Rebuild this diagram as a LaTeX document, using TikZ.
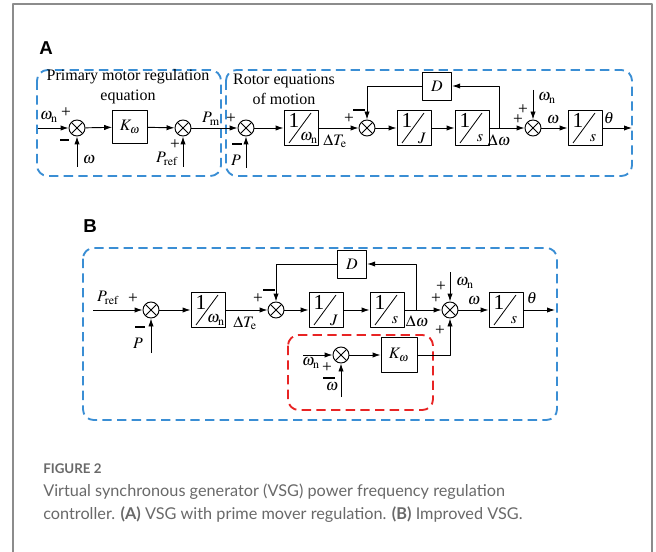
\documentclass[tikz,border=0pt]{standalone}
\usepackage{mathptmx}
\usepackage{fontspec}
\setmainfont{Liberation Serif}
\newfontfamily\capfont{Lato}
\newfontfamily\tagfont{Liberation Sans}
\usetikzlibrary{arrows.meta}
\definecolor{fenceblue}{RGB}{58,142,212}
\definecolor{fencered}{RGB}{232,36,36}
\definecolor{capgray}{RGB}{105,105,105}
\begin{document}
\begin{tikzpicture}[x=0.75pt,y=-0.75pt,line join=round,>={Latex[length=6pt,width=4pt]},
  font=\fontsize{12}{15}\selectfont,
  blk/.style={draw,line width=0.7pt,minimum width=25.5pt,minimum height=26pt,inner sep=0},
  sum/.style={draw,circle,line width=0.7pt,minimum size=12pt,inner sep=0,
    path picture={\draw[line width=0.7pt] (path picture bounding box.north west) -- (path picture bounding box.south east)
      (path picture bounding box.north east) -- (path picture bounding box.south west);}},
  wire/.style={line width=0.7pt},
  minusbar/.style={line width=1.6pt},
  lbl/.style={inner sep=0},
  plus/.style={inner sep=0,font=\fontsize{13}{13}\selectfont},
  fence/.style={dash pattern=on 7pt off 4pt,line width=1.4pt,rounded corners=8pt}]
\def\invbox#1#2#3{%
  \node[blk] (#1) at #2 {};
  \node[lbl,font=\fontsize{16}{16}\selectfont] at ([shift={(-7,-8)}]#1.center) {1};
  \draw[line width=0.6pt] ([shift={(-12,15)}]#1.center) -- ([shift={(10,-15)}]#1.center);
  \node[lbl] at ([shift={(8,10)}]#1.center) {#3};}
\useasboundingbox (0,0) rectangle (656,552);
\draw[black!45,line width=1.1pt] (13,552) -- (13,4) -- (652,4) -- (652,552);

% ---- panel A
\node[font=\tagfont\bfseries\fontsize{14}{14}\selectfont] at (46,48) {A};
\draw[fence,fenceblue] (37,70) rectangle (221,176);
\draw[fence,fenceblue] (226,70) rectangle (632,176);
\node[align=center] at (128,87) {Primary motor regulation\\equation};
\node[align=center] at (284,89) {Rotor equations\\of motion};

\node[sum] (sA1) at (77,128) {};
\node[blk,minimum width=26pt,minimum height=25pt] (kA) at (130,127) {$K_{\omega}$};
\node[sum] (sA2) at (183,128) {};
\node[sum] (sA3) at (246,128) {};
\invbox{wA}{(301,128)}{$\omega_{\mathrm{n}}$}
\node[sum] (sA4) at (367,128) {};
\invbox{jA}{(414,128)}{$J$}
\invbox{iA1}{(472,128)}{$s$}
\node[sum] (sA5) at (533,128) {};
\invbox{iA2}{(585,128)}{$s$}
\node[blk,minimum width=22pt,minimum height=21pt] (dA) at (437,86) {$D$};

\coordinate (inA) at (38,128);
\coordinate (omA) at (77,167);
\coordinate (prefA) at (183,167);
\coordinate (pA) at (246,168);
\coordinate (brA) at (499,128);
\coordinate (wnA) at (533,90);
\coordinate (outA) at (632,128);

\draw[wire,->] (inA) -- (sA1);
\draw[wire,->] (omA) -- (sA1);
\draw[wire,->] (sA1) -- (kA);
\draw[wire,->] (kA) -- (sA2);
\draw[wire,->] (prefA) -- (sA2);
\draw[wire,->] (sA2) -- (sA3);
\draw[wire,->] (pA) -- (sA3);
\draw[wire,->] (sA3) -- (wA);
\draw[wire,->] (wA) -- (sA4);
\draw[wire,->] (sA4) -- (jA);
\draw[wire,->] (jA) -- (iA1);
\draw[wire,->] (iA1) -- (sA5);
\draw[wire,->] (brA) |- (dA);
\draw[wire,->] (dA) -| (sA4);
\draw[wire,->] (wnA) -- (sA5);
\draw[wire,->] (sA5) -- (iA2);
\draw[wire,->] (iA2) -- (outA);

\node[lbl] at (49,117) {$\omega_{\mathrm{n}}$};
\node[plus] at (66,113) {+};
\draw[minusbar] (60,140) -- (69,140);
\node[lbl] at (89,160) {$\omega$};
\node[plus] at (175,145) {+};
\node[lbl] at (167,159) {$P_{\mathrm{ref}}$};
\node[lbl] at (211,119) {$P_{\mathrm{m}}$};
\node[plus] at (231,119) {+};
\draw[minusbar] (232,144) -- (242,144);
\node[lbl] at (236,160) {$P$};
\node[lbl] at (335,141) {$\Delta T_{\mathrm{e}}$};
\node[plus] at (349,119) {+};
\draw[minusbar] (353,110) -- (365,110);
\node[lbl] at (499,140) {$\Delta\omega$};
\node[plus] at (523,110) {+};
\node[plus] at (518,120) {+};
\node[lbl] at (547,98) {$\omega_{\mathrm{n}}$};
\node[lbl] at (553,120) {$\omega$};
\node[lbl] at (609,118) {$\theta$};

% ---- panel B
\node[font=\tagfont\bfseries\fontsize{14}{14}\selectfont] at (90,226) {B};
\draw[fence,fenceblue] (83,248) rectangle (557,420);
\draw[fence,fencered] (288,335) rectangle (433,410);

\node[sum] (sB1) at (151,310) {};
\invbox{wB}{(208,310)}{$\omega_{\mathrm{n}}$}
\node[sum] (sB2) at (276,310) {};
\invbox{jB}{(326,310)}{$J$}
\invbox{iB1}{(387,310)}{$s$}
\node[sum] (sB3) at (450,310) {};
\invbox{iB2}{(506,310)}{$s$}
\node[blk,minimum width=22pt,minimum height=21pt] (dB) at (352,264) {$D$};
\node[sum] (sB4) at (341,355) {};
\node[blk,minimum width=27pt,minimum height=26pt] (kB) at (399,355) {$K_{\omega}$};

\coordinate (prefB) at (93,310);
\coordinate (pB) at (151,353);
\coordinate (brB) at (416,310);
\coordinate (wnB) at (450,272);
\coordinate (outB) at (555,310);
\coordinate (wnB4) at (303,355);
\coordinate (omB4) at (341,397);

\draw[wire,->] (prefB) -- (sB1);
\draw[wire,->] (pB) -- (sB1);
\draw[wire,->] (sB1) -- (wB);
\draw[wire,->] (wB) -- (sB2);
\draw[wire,->] (sB2) -- (jB);
\draw[wire,->] (jB) -- (iB1);
\draw[wire,->] (iB1) -- (sB3);
\draw[wire,->] (brB) |- (dB);
\draw[wire,->] (dB) -| (sB2);
\draw[wire,->] (wnB) -- (sB3);
\draw[wire,->] (sB3) -- (iB2);
\draw[wire,->] (iB2) -- (outB);
\draw[wire,->] (wnB4) -- (sB4);
\draw[wire,->] (omB4) -- (sB4);
\draw[wire,->] (sB4) -- (kB);
\draw[wire,->] (kB) -| (sB3);

\node[lbl] at (108,298) {$P_{\mathrm{ref}}$};
\node[plus] at (133,299) {+};
\draw[minusbar] (135,327) -- (145,327);
\node[lbl] at (138,343) {$P$};
\node[lbl] at (245,323) {$\Delta T_{\mathrm{e}}$};
\node[plus] at (258,299) {+};
\draw[minusbar] (263,290) -- (275,290);
\node[lbl] at (417,321) {$\Delta\omega$};
\node[plus] at (441,287) {+};
\node[plus] at (436,299) {+};
\node[plus] at (440,331) {+};
\node[lbl] at (465,283) {$\omega_{\mathrm{n}}$};
\node[lbl] at (474,301) {$\omega$};
\node[lbl] at (532,298) {$\theta$};
\node[lbl] at (311,363) {$\omega_{\mathrm{n}}$};
\node[plus] at (327,368) {+};
\draw[minusbar] (323,378) -- (335,378);
\node[lbl] at (332,387) {$\omega$};

% ---- caption
\node[lbl,anchor=west,text=capgray,font=\capfont\bfseries\fontsize{10}{12}\selectfont] at (43,469) {FIGURE 2};
\node[lbl,anchor=west,text=capgray,font=\capfont\fontsize{12.2}{15}\selectfont] at (43,492) {Virtual synchronous generator (VSG) power frequency regulation};
\node[lbl,anchor=west,text=capgray,font=\capfont\fontsize{12.2}{15}\selectfont] at (43,515) {controller. \textbf{(A)} VSG with prime mover regulation. \textbf{(B)} Improved VSG.};
\end{tikzpicture}
\end{document}
